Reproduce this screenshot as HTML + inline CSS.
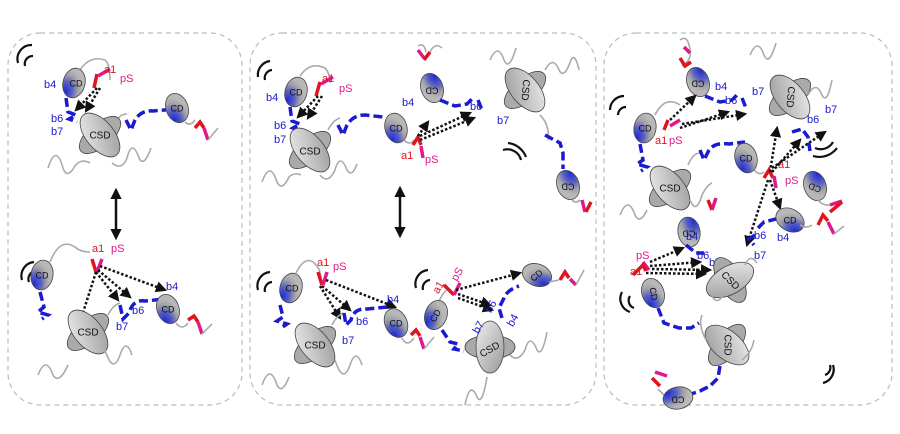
<!DOCTYPE html>
<html><head><meta charset="utf-8"><style>
body{margin:0;background:#fff}
svg{display:block;font-family:"Liberation Sans",Arial,sans-serif}
.b{fill:#1a1ad0;font-size:11px}
.r{fill:#e0141e;font-size:11px}
.m{fill:#e0198c;font-size:11px}
.t{fill:#111;font-size:9px;text-anchor:middle;dominant-baseline:middle}
.tl{fill:#111;font-size:10px;text-anchor:middle;dominant-baseline:middle}
.g{fill:none;stroke:#aaa;stroke-width:1.6}
.bl{fill:none;stroke:#1a1ad0;stroke-width:3.5;stroke-dasharray:9 4}
.rd{fill:none;stroke:#e0141e;stroke-width:3.5}
.mg{fill:none;stroke:#e0198c;stroke-width:3.5}
.dt{fill:none;stroke:#111;stroke-width:2.5;stroke-dasharray:2.5 2}
.arc{fill:none;stroke:#111;stroke-width:2.2}
.pn{fill:none;stroke:#bbb;stroke-width:1.2;stroke-dasharray:5 4}
</style></head><body>
<svg width="900" height="434" viewBox="0 0 900 434">
<defs>
<radialGradient id="gcd" cx="0.2" cy="0.85" r="0.75">
<stop offset="0" stop-color="#1e2ad8"/><stop offset="0.45" stop-color="#5a62c0"/><stop offset="0.75" stop-color="#a0a0a8"/><stop offset="1" stop-color="#b8b8b8"/></radialGradient>
<linearGradient id="gcs" x1="0" y1="0" x2="1" y2="1">
<stop offset="0" stop-color="#eee"/><stop offset="1" stop-color="#999"/></linearGradient>
<marker id="ah" viewBox="0 0 10 10" refX="8" refY="5" markerWidth="4.5" markerHeight="4.5" orient="auto"><path d="M0,0L10,5L0,10z" fill="#111"/></marker>
<marker id="ah2" viewBox="0 0 10 10" refX="8" refY="5" markerWidth="4.5" markerHeight="4.5" orient="auto-start-reverse"><path d="M0,0L10,5L0,10z" fill="#111"/></marker>
<g id="cd"><ellipse rx="11" ry="15" fill="url(#gcd)" stroke="#444" stroke-width="0.8"/></g>
<g id="csd"><ellipse rx="12" ry="25" transform="rotate(50)" fill="#aaa" stroke="#444" stroke-width="0.8"/><ellipse rx="14" ry="26" transform="rotate(-40)" fill="url(#gcs)" stroke="#444" stroke-width="0.8"/></g>
</defs>

<rect class="pn" x="8" y="33" width="234" height="372" rx="32"/>
<rect class="pn" x="250" y="33" width="346" height="372" rx="32"/>
<rect class="pn" x="604" y="33" width="288" height="372" rx="32"/>

<!-- PANEL 1 TOP -->
<path class="arc" d="M18,63 a14,14 0 0 1 14,-18"/><path class="arc" d="M25,66 a8,8 0 0 1 8,-10"/>
<path class="g" d="M80,70 q10,-15 25,-10 q5,4 5,20"/>
<use href="#cd" x="74" y="83" transform="rotate(15 74 83)"/><text class="t" x="76" y="84">CD</text>
<path class="rd" d="M97,74 L94,88"/><path class="mg" d="M98,76 L110,69"/>
<text class="r" x="104" y="73">a1</text><text class="m" x="120" y="82">pS</text>
<text class="b" x="44" y="88">b4</text>
<path class="dt" d="M97,88 L76,110" marker-end="url(#ah)"/><path class="dt" d="M100,88 L86,111" marker-end="url(#ah)"/>
<path class="bl" d="M66,98 L68,112 l8,3 l-7,4 l8,3"/>
<text class="b" x="51" y="122">b6</text><text class="b" x="51" y="135">b7</text>
<path class="g" d="M115,122 q5,-8 12,-8"/>
<use href="#csd" x="100" y="135"/><text class="tl" x="100" y="136">CSD</text>
<path class="g" d="M48,168 q8,-25 15,0 q4,12 12,-2 q6,-8 15,-3"/><path class="g" d="M112,163 q10,8 15,-5 q5,-20 12,0 q5,10 12,-10"/>
<path class="bl" d="M126,120 l5,10 l4,-10 q6,-10 18,-9 l22,-2"/>
<use href="#cd" x="177" y="108" transform="rotate(-20 177 108)"/><text class="t" x="177" y="109">CD</text>
<path class="g" d="M185,122 q5,5 10,-2"/><path class="rd" d="M195,128 l5,-6 l4,6"/><path class="mg" d="M204,128 l4,12"/><path class="g" d="M208,140 l10,-12"/>
<path d="M116,190 L116,238" stroke="#111" stroke-width="2.5" marker-start="url(#ah2)" marker-end="url(#ah)"/>

<!-- PANEL 1 BOTTOM -->
<path class="arc" d="M22,280 a14,14 0 0 1 12,-18"/><path class="arc" d="M29,282 a8,8 0 0 1 7,-11"/>
<use href="#cd" x="42" y="275" transform="rotate(10 42 275)"/><text class="t" x="42" y="276">CD</text>
<path class="g" d="M50,262 q10,-25 25,-15 q5,5 15,5"/>
<path class="rd" d="M92,259 L96,272"/><path class="mg" d="M97,272 L102,259"/>
<text class="r" x="92" y="252">a1</text><text class="m" x="111" y="252">pS</text>
<path class="dt" d="M96,272 L118,300" marker-end="url(#ah)"/><path class="dt" d="M96,272 L80,322" marker-end="url(#ah)"/><path class="dt" d="M98,270 L130,297" marker-end="url(#ah)"/><path class="dt" d="M100,266 L165,290" marker-end="url(#ah)"/>
<path class="bl" d="M40,292 l4,15 l-6,5 l10,3 l-6,4"/>
<use href="#csd" x="88" y="332"/><text class="tl" x="88" y="333">CSD</text>
<path class="g" d="M38,375 q8,-20 15,0 q6,10 15,-10"/><path class="g" d="M105,350 q8,25 15,5 q6,-18 12,0"/>
<path class="g" d="M108,315 q5,-10 12,-12"/>
<path class="bl" d="M120,305 l3,14 l6,-6 q4,-14 16,-12 l20,-2"/>
<text class="b" x="132" y="314">b6</text><text class="b" x="116" y="330">b7</text><text class="b" x="166" y="290">b4</text>
<use href="#cd" x="168" y="309" transform="rotate(-20 168 309)"/><text class="t" x="168" y="310">CD</text>
<path class="g" d="M176,323 q6,8 12,0"/><path class="rd" d="M188,320 l6,-4 l4,6"/><path class="mg" d="M198,322 l4,12"/><path class="g" d="M202,334 l10,-10"/>

<!-- PANEL 2 TOP -->
<path class="arc" d="M258,77 a14,14 0 0 1 12,-16"/><path class="arc" d="M265,80 a8,8 0 0 1 7,-10"/>
<path class="g" d="M300,76 q10,-15 25,-8 q5,5 5,15"/>
<use href="#cd" x="296" y="92" transform="rotate(15 296 92)"/><text class="t" x="296" y="93">CD</text>
<text class="b" x="266" y="101">b4</text>
<path class="rd" d="M320,82 L316,96"/><path class="mg" d="M321,84 L333,77"/>
<text class="r" x="322" y="82">a1</text><text class="m" x="339" y="92">pS</text>
<path class="dt" d="M318,96 L298,117" marker-end="url(#ah)"/><path class="dt" d="M322,96 L308,118" marker-end="url(#ah)"/>
<path class="bl" d="M290,107 l2,14 l8,3 l-7,4 l8,3"/>
<text class="b" x="274" y="129">b6</text><text class="b" x="274" y="143">b7</text>
<use href="#csd" x="310" y="150"/><text class="tl" x="310" y="152">CSD</text>
<path class="g" d="M262,182 q8,-22 15,0 q5,10 12,-5 q5,-5 12,-2"/><path class="g" d="M320,175 q8,10 15,-5 q5,-18 12,0 q5,8 10,-6"/>
<path class="g" d="M328,130 q5,-10 12,-12"/>
<path class="bl" d="M338,125 l5,10 l4,-10 q6,-10 18,-10 l18,2"/>
<use href="#cd" x="396" y="128" transform="rotate(-15 396 128)"/><text class="t" x="396" y="129">CD</text>
<path class="g" d="M404,140 q6,6 10,0"/><path class="rd" d="M413,145 l5,-8 l3,8"/><path class="mg" d="M421,146 l2,12"/>
<text class="r" x="401" y="159">a1</text><text class="m" x="425" y="163">pS</text>
<path class="dt" d="M418,136 L428,122" marker-end="url(#ah)"/><path class="dt" d="M420,136 L470,113" marker-end="url(#ah)"/><path class="dt" d="M420,140 L474,118" marker-end="url(#ah)"/>
<path class="g" d="M418,46 q6,-4 8,6"/><path class="mg" d="M418,50 l6,8"/><path class="rd" d="M424,60 l6,-8"/><path class="g" d="M430,52 q5,-10 12,-4"/>
<use href="#cd" x="432" y="88" transform="rotate(160 432 88)"/><text class="t" x="432" y="90" transform="rotate(180 432 90)">CD</text>
<text class="b" x="402" y="106">b4</text>
<path class="bl" d="M440,100 l15,6 l12,-2 l6,-6"/><path class="bl" d="M478,100 l4,10"/>
<text class="b" x="470" y="110">b6</text><text class="b" x="497" y="124">b7</text>
<use href="#csd" x="525" y="90" transform="rotate(180 525 90)"/><text class="tl" x="525" y="90" transform="rotate(95 525 90)">CSD</text>
<path class="g" d="M490,60 q8,-18 14,0 q5,12 12,-12"/><path class="g" d="M545,70 q8,-15 14,0 q5,10 12,-10 q4,-8 8,10"/>
<path class="arc" d="M503,150 a14,14 0 0 1 18,10"/><path class="arc" d="M508,143 a22,22 0 0 1 18,14"/>
<path class="g" d="M540,115 q10,10 8,25"/>
<path class="bl" d="M545,135 l15,8 l3,10 l0,16"/>
<use href="#cd" x="568" y="185" transform="rotate(160 568 185)"/><text class="t" x="568" y="186" transform="rotate(180 568 186)">CD</text>
<path class="g" d="M572,200 q4,4 8,0"/><path class="mg" d="M582,200 l3,12"/><path class="rd" d="M586,212 l5,-10"/>
<path d="M400,188 L400,236" stroke="#111" stroke-width="2.5" marker-start="url(#ah2)" marker-end="url(#ah)"/>

<!-- PANEL 2 BOTTOM -->
<path class="arc" d="M258,290 a14,14 0 0 1 12,-18"/><path class="arc" d="M265,292 a8,8 0 0 1 7,-10"/>
<use href="#cd" x="291" y="288" transform="rotate(15 291 288)"/><text class="t" x="292" y="289">CD</text>
<path class="g" d="M296,273 q10,-20 20,-8 q5,5 5,15"/>
<path class="rd" d="M318,272 L322,285"/><path class="mg" d="M323,285 L327,272"/>
<text class="r" x="317" y="266">a1</text><text class="m" x="333" y="270">pS</text>
<path class="dt" d="M320,286 L340,318" marker-end="url(#ah)"/><path class="dt" d="M322,286 L350,310" marker-end="url(#ah)"/><path class="dt" d="M326,280 L395,307" marker-end="url(#ah)"/>
<path class="bl" d="M280,305 l3,12 l-6,4 l10,3 l-6,4"/>
<use href="#csd" x="315" y="345"/><text class="tl" x="315" y="346">CSD</text>
<path class="g" d="M262,385 q8,-22 15,0 q5,10 12,-8"/><path class="g" d="M335,360 q8,25 15,5 q6,-18 12,0"/>
<path class="g" d="M332,325 q5,-10 12,-12"/>
<path class="bl" d="M344,313 l2,12 l5,-5 q3,-12 16,-11 l20,-2"/>
<text class="b" x="356" y="325">b6</text><text class="b" x="342" y="344">b7</text><text class="b" x="387" y="303">b4</text>
<use href="#cd" x="396" y="323" transform="rotate(-25 396 323)"/><text class="t" x="396" y="324">CD</text>
<path class="g" d="M402,338 q5,10 12,0"/><path class="rd" d="M411,335 l5,-5 l4,6"/><path class="mg" d="M420,337 l4,12"/><path class="g" d="M424,349 l10,-12"/>
<path class="arc" d="M416,288 a14,14 0 0 1 12,-18"/><path class="arc" d="M423,290 a8,8 0 0 1 7,-10"/>
<text class="r" x="430" y="290" transform="rotate(-60 438 285)">a1</text><text class="m" x="450" y="280" transform="rotate(-60 455 275)">pS</text>
<path class="rd" d="M444,285 l10,10"/><path class="mg" d="M454,295 l6,-12"/>
<path class="g" d="M446,290 q-8,10 -10,20"/>
<use href="#cd" x="436" y="315" transform="rotate(20 436 315)"/><text class="t" x="436" y="316" transform="rotate(-60 436 316)">CD</text>
<path class="dt" d="M456,290 L520,273" marker-end="url(#ah)"/><path class="dt" d="M458,294 L490,305" marker-end="url(#ah)"/><path class="dt" d="M458,298 L492,310" marker-end="url(#ah)"/>
<path class="bl" d="M442,330 l8,12 l8,2 l-4,5 l10,2"/>
<use href="#csd" x="490" y="347" transform="rotate(40 490 347)"/><text class="tl" x="490" y="350" transform="rotate(-30 490 350)">CSD</text>
<path class="g" d="M465,405 q5,-25 12,-8 q5,10 10,-20"/><path class="g" d="M510,355 q8,8 15,-5 q5,-18 12,0 q5,8 10,-18"/>
<path class="bl" d="M502,318 l-3,-10 l5,-10 q3,-8 15,-12"/>
<text class="b" x="483" y="310" transform="rotate(-60 490 305)">b6</text><text class="b" x="505" y="326" transform="rotate(-60 510 320)">b4</text><text class="b" x="470" y="330" transform="rotate(-60 478 325)">b7</text>
<use href="#cd" x="537" y="275" transform="rotate(-70 537 275)"/><text class="t" x="537" y="276" transform="rotate(-40 537 276)">CD</text>
<path class="g" d="M549,282 l10,-2"/><path class="rd" d="M560,280 l5,-8 l4,6"/><path class="mg" d="M570,279 l6,6"/><path class="g" d="M576,285 l8,-15"/>

<!-- PANEL 3 -->
<path class="g" d="M680,40 q8,-6 10,10 q2,10 -8,16"/><path class="mg" d="M684,47 l6,6"/><path class="rd" d="M680,58 l5,8 l6,-4"/>
<use href="#cd" x="698" y="82" transform="rotate(160 698 82)"/><text class="t" x="698" y="83" transform="rotate(180 698 83)">CD</text>
<text class="b" x="715" y="90">b4</text>
<path class="bl" d="M705,96 l15,6 l12,-2 l6,-6"/><path class="bl" d="M742,98 l4,10"/>
<text class="b" x="725" y="104">b6</text><text class="b" x="752" y="95">b7</text>
<use href="#csd" x="790" y="97" transform="rotate(180 790 97)"/><text class="tl" x="790" y="97" transform="rotate(95 790 97)">CSD</text>
<path class="g" d="M750,55 q8,-18 14,0 q5,12 12,-12"/><path class="g" d="M808,95 q8,-15 14,0 q5,10 10,-15"/>
<text class="b" x="825" y="113">b7</text><text class="b" x="807" y="123">b6</text>
<path class="arc" d="M610,110 a14,14 0 0 1 14,-14"/><path class="arc" d="M618,115 a8,8 0 0 1 8,-8"/>
<path class="g" d="M655,115 q10,-20 25,-10"/>
<use href="#cd" x="645" y="128" transform="rotate(10 645 128)"/><text class="t" x="645" y="129">CD</text>
<path class="rd" d="M668,120 L664,130"/><path class="mg" d="M670,126 L680,120"/>
<text class="r" x="655" y="144">a1</text><text class="m" x="669" y="144">pS</text>
<path class="dt" d="M670,120 L695,96" marker-end="url(#ah)"/><path class="dt" d="M680,128 L728,112" marker-end="url(#ah)"/><path class="dt" d="M682,124 L745,114" marker-end="url(#ah)"/>
<path class="bl" d="M640,144 l3,16 l-6,4 l10,3 l-6,4"/>
<use href="#csd" x="670" y="188"/><text class="tl" x="670" y="189">CSD</text>
<path class="g" d="M620,215 q8,-20 15,0 q5,10 12,-5"/><path class="g" d="M690,200 q6,15 12,-5 q5,-10 10,-12"/>
<path class="rd" d="M708,200 l4,10"/><path class="mg" d="M712,210 l4,-12"/>
<path class="g" d="M688,165 q5,-12 12,-12"/>
<path class="bl" d="M700,150 l4,10 l5,-10 q6,-8 20,-6 l16,-2"/>
<use href="#cd" x="746" y="158" transform="rotate(-15 746 158)"/><text class="t" x="746" y="159">CD</text>
<path class="g" d="M754,170 q6,6 10,2"/><path class="rd" d="M764,178 l5,-8 l4,8"/><path class="mg" d="M774,176 l2,12"/>
<text class="r" x="778" y="168">a1</text><text class="m" x="785" y="184">pS</text>
<path class="dt" d="M770,172 L777,128" marker-end="url(#ah)"/><path class="dt" d="M772,172 L800,140" marker-end="url(#ah)"/><path class="dt" d="M772,168 L825,132" marker-end="url(#ah)"/>
<path class="dt" d="M770,180 L780,208" marker-end="url(#ah)"/><path class="dt" d="M768,180 L747,245" marker-end="url(#ah)"/>
<path class="arc" d="M815,148 a14,14 0 0 0 18,-6"/><path class="arc" d="M813,156 a22,22 0 0 0 24,-8"/>
<path class="bl" d="M792,132 l10,-3 l6,8 l2,14"/>
<use href="#cd" x="815" y="186" transform="rotate(160 815 186)"/><text class="t" x="815" y="187" transform="rotate(200 815 187)">CD</text>
<path class="g" d="M818,200 q5,6 12,5"/><path class="mg" d="M830,205 l12,-4"/><path class="rd" d="M830,212 l12,-10"/>
<path class="bl" d="M758,228 l6,-6 l12,-3 l5,-3"/>
<use href="#cd" x="790" y="220" transform="rotate(-60 790 220)"/><text class="t" x="790" y="221">CD</text>
<path class="g" d="M800,225 q6,4 12,0"/><path class="rd" d="M818,225 l5,-10 l5,6"/><path class="mg" d="M828,222 l6,12"/><path class="g" d="M834,234 l10,-8"/>
<text class="b" x="754" y="239">b6</text><text class="b" x="777" y="241">b4</text><text class="b" x="754" y="259">b7</text>
<path class="bl" d="M755,235 l-6,4 l5,6"/>
<use href="#cd" x="689" y="232" transform="rotate(170 689 232)"/><text class="t" x="689" y="233" transform="rotate(180 689 233)">CD</text>
<text class="b" x="686" y="240">b4</text>
<path class="bl" d="M686,245 l10,8 l8,0"/>
<text class="b" x="697" y="259">b6</text><text class="b" x="709" y="266">b7</text>
<path class="mg" d="M643,262 l6,8"/><path class="rd" d="M633,275 l10,-10 l3,6"/>
<text class="m" x="636" y="259">pS</text><text class="r" x="630" y="275">a1</text>
<path class="dt" d="M650,262 L683,248" marker-end="url(#ah)"/><path class="dt" d="M650,266 L700,262" marker-end="url(#ah)"/><path class="dt" d="M652,269 L710,270" marker-end="url(#ah)"/><path class="dt" d="M646,273 L705,274" marker-end="url(#ah)"/>
<use href="#csd" x="730" y="280" transform="rotate(100 730 280)"/><text class="tl" x="730" y="281" transform="rotate(45 730 281)">CSD</text>
<path class="g" d="M745,265 q5,-12 12,-2"/><path class="g" d="M712,296 q5,10 12,-2"/>
<path class="arc" d="M622,292 a14,14 0 0 0 8,20"/><path class="arc" d="M630,296 a8,8 0 0 0 4,12"/>
<use href="#cd" x="653" y="293" transform="rotate(-20 653 293)"/><text class="t" x="653" y="294" transform="rotate(80 653 294)">CD</text>
<path class="bl" d="M658,308 l6,15 l15,5 l12,0 l8,-5"/>
<use href="#csd" x="727" y="345" transform="rotate(170 727 345)"/><text class="tl" x="727" y="345" transform="rotate(90 727 345)">CSD</text>
<path class="g" d="M706,340 q-8,-15 -4,-25"/><path class="g" d="M742,360 q10,-8 12,-20"/>
<path class="bl" d="M720,366 l-2,12 l-8,8 l-10,5 l-12,4"/>
<use href="#cd" x="678" y="398" transform="rotate(80 678 398)"/><text class="t" x="678" y="399" transform="rotate(180 678 399)">CD</text>
<path class="g" d="M664,395 l-6,-6"/><path class="rd" d="M660,386 l-8,-8"/><path class="mg" d="M655,372 l12,4"/>
<path class="arc" d="M823,383 a14,14 0 0 0 10,-18"/><path class="arc" d="M825,375 a8,8 0 0 0 5,-10"/>
</svg>
</body></html>
